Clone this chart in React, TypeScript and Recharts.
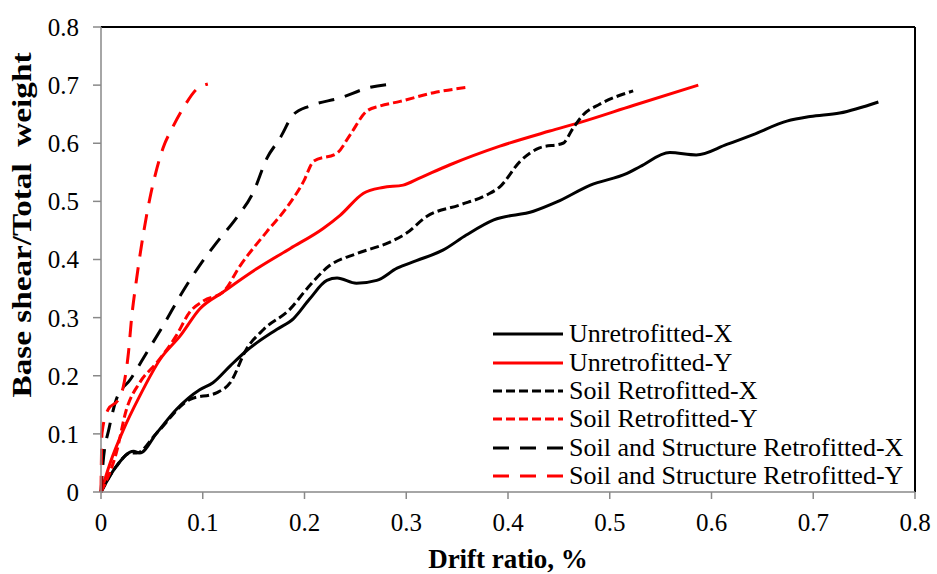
import { LineChart, Line, XAxis, YAxis, ReferenceLine, Label } from 'recharts';

const FONT = '"Times New Roman", "Liberation Serif", serif';

// drift ratio (%) vs base shear / total weight
const unretrofittedX: [number, number][] = [
  [0, 0], [0.015, 0.044], [0.032, 0.07], [0.038, 0.067], [0.055, 0.102], [0.074, 0.142],
  [0.097, 0.176], [0.11, 0.188], [0.127, 0.217], [0.143, 0.243], [0.173, 0.28], [0.189, 0.298],
  [0.205, 0.332], [0.222, 0.364], [0.232, 0.368], [0.251, 0.359], [0.271, 0.364], [0.291, 0.385],
  [0.31, 0.398], [0.336, 0.416], [0.359, 0.442], [0.386, 0.468], [0.425, 0.483], [0.448, 0.499],
  [0.481, 0.528], [0.517, 0.548], [0.53, 0.56], [0.559, 0.584], [0.585, 0.58], [0.615, 0.598],
  [0.641, 0.615], [0.674, 0.638], [0.697, 0.646], [0.726, 0.652], [0.764, 0.671],
];

const unretrofittedY: [number, number][] = [
  [0, 0], [0.009, 0.05], [0.022, 0.107], [0.038, 0.165], [0.058, 0.228], [0.078, 0.269],
  [0.097, 0.315], [0.12, 0.344], [0.153, 0.384], [0.186, 0.419], [0.218, 0.453], [0.235, 0.476],
  [0.258, 0.514], [0.277, 0.524], [0.297, 0.528], [0.313, 0.54], [0.343, 0.563], [0.392, 0.595],
  [0.441, 0.621], [0.471, 0.636], [0.523, 0.665], [0.587, 0.7],
];

const soilX: [number, number][] = [
  [0, 0], [0.015, 0.044], [0.029, 0.067], [0.035, 0.067], [0.055, 0.102], [0.087, 0.159],
  [0.114, 0.171], [0.127, 0.188], [0.143, 0.246], [0.16, 0.28], [0.186, 0.315], [0.202, 0.349],
  [0.225, 0.39], [0.251, 0.41], [0.284, 0.43], [0.3, 0.445], [0.32, 0.474], [0.353, 0.494],
  [0.379, 0.511], [0.392, 0.525], [0.412, 0.569], [0.431, 0.592], [0.454, 0.6], [0.464, 0.626],
  [0.474, 0.649], [0.49, 0.667], [0.523, 0.69],
];

const soilY: [number, number][] = [
  [0, 0], [0.015, 0.067], [0.025, 0.142], [0.038, 0.188], [0.055, 0.223], [0.074, 0.269],
  [0.087, 0.309], [0.101, 0.329], [0.12, 0.344], [0.137, 0.39], [0.163, 0.448], [0.182, 0.488],
  [0.199, 0.534], [0.209, 0.569], [0.232, 0.583], [0.245, 0.615], [0.261, 0.655], [0.274, 0.664],
  [0.294, 0.672], [0.327, 0.687], [0.359, 0.696],
];

const soilStructX: [number, number][] = [
  [0, 0], [0.002, 0.05], [0.008, 0.11], [0.015, 0.159], [0.029, 0.194], [0.045, 0.24],
  [0.061, 0.286], [0.078, 0.338], [0.097, 0.39], [0.114, 0.43], [0.133, 0.471], [0.15, 0.517],
  [0.163, 0.574], [0.176, 0.609], [0.189, 0.649], [0.205, 0.664], [0.235, 0.678], [0.264, 0.696],
  [0.286, 0.702],
];

const soilStructY: [number, number][] = [
  [0, 0], [0.001, 0.102], [0.007, 0.142], [0.017, 0.159], [0.022, 0.182], [0.027, 0.24],
  [0.03, 0.298], [0.035, 0.367], [0.042, 0.448], [0.048, 0.505], [0.055, 0.557], [0.061, 0.592],
  [0.07, 0.626], [0.081, 0.661], [0.094, 0.693], [0.105, 0.702],
];

const ticks = [0, 0.1, 0.2, 0.3, 0.4, 0.5, 0.6, 0.7, 0.8];

const series = [
  { name: 'Unretrofitted-X', pts: unretrofittedX, color: '#000000', dash: undefined },
  { name: 'Unretrofitted-Y', pts: unretrofittedY, color: '#ff0000', dash: undefined },
  { name: 'Soil Retrofitted-X', pts: soilX, color: '#000000', dash: '9 4' },
  { name: 'Soil Retrofitted-Y', pts: soilY, color: '#ff0000', dash: '9 4' },
  { name: 'Soil and Structure Retrofitted-X', pts: soilStructX, color: '#000000', dash: '16 11' },
  { name: 'Soil and Structure Retrofitted-Y', pts: soilStructY, color: '#ff0000', dash: '16 11' },
];

const fmt = (v: number) => (v === 0 ? '0' : String(v));

function LegendBox() {
  return (
    <div
      style={{
        position: 'absolute',
        left: 491,
        top: 320,
        fontFamily: FONT,
        fontSize: 26,
        lineHeight: '28px',
        color: '#000',
      }}
    >
      {series.map((s) => (
        <div key={s.name} style={{ display: 'flex', alignItems: 'center', height: 28.4 }}>
          <svg width={76} height={10} style={{ marginRight: 2 }}>
            <line x1={2} y1={5} x2={72} y2={5} stroke={s.color} strokeWidth={3} strokeDasharray={s.dash} />
          </svg>
          <span style={{ whiteSpace: 'nowrap' }}>{s.name}</span>
        </div>
      ))}
    </div>
  );
}

// y-axis title, stretched along its length like the original
const YTitle = () => (
  <text
    x={22}
    y={225}
    transform="rotate(-90 22 225)"
    textAnchor="middle"
    dominantBaseline="central"
    textLength={345}
    lengthAdjust="spacingAndGlyphs"
    style={{ fill: '#000', fontSize: 27, fontWeight: 'bold', fontFamily: FONT, whiteSpace: 'pre' }}
  >
    Base shear/Total  weight
  </text>
);

export default function App() {
  return (
    <div style={{ position: 'absolute', left: 0, top: 0, width: 937, height: 574, background: '#fff' }}>
      <LineChart width={937} height={574} margin={{ top: 27, right: 22, left: 0, bottom: 0 }}>
        <XAxis
          type="number"
          dataKey="x"
          domain={[0, 0.8]}
          ticks={ticks}
          tickFormatter={fmt}
          stroke="#898989"
          strokeWidth={1.5}
          tickSize={7}
          tickMargin={14}
          height={82}
          tick={{ fill: '#000', fontSize: 25, fontFamily: FONT }}
        >
          <Label
            value="Drift ratio, %"
            position="insideBottom"
            offset={6}
            style={{ fill: '#000', fontSize: 27, fontWeight: 'bold', fontFamily: FONT }}
          />
        </XAxis>
        <YAxis
          type="number"
          dataKey="y"
          domain={[0, 0.8]}
          ticks={ticks}
          tickFormatter={fmt}
          stroke="#898989"
          strokeWidth={1.5}
          tickSize={8}
          tickMargin={14}
          width={101}
          tick={{ fill: '#000', fontSize: 25, fontFamily: FONT }}
        >
          <Label content={YTitle} />
        </YAxis>
        <ReferenceLine y={0.8} stroke="#000" strokeWidth={2} />
        <ReferenceLine x={0.8} stroke="#000" strokeWidth={2} />
        {series.map((s) => (
          <Line
            key={s.name}
            name={s.name}
            data={s.pts.map(([x, y]) => ({ x, y }))}
            dataKey="y"
            type="monotone"
            stroke={s.color}
            strokeWidth={3}
            strokeDasharray={s.dash}
            dot={false}
            activeDot={false}
            isAnimationActive={false}
          />
        ))}
      </LineChart>
      <LegendBox />
    </div>
  );
}
